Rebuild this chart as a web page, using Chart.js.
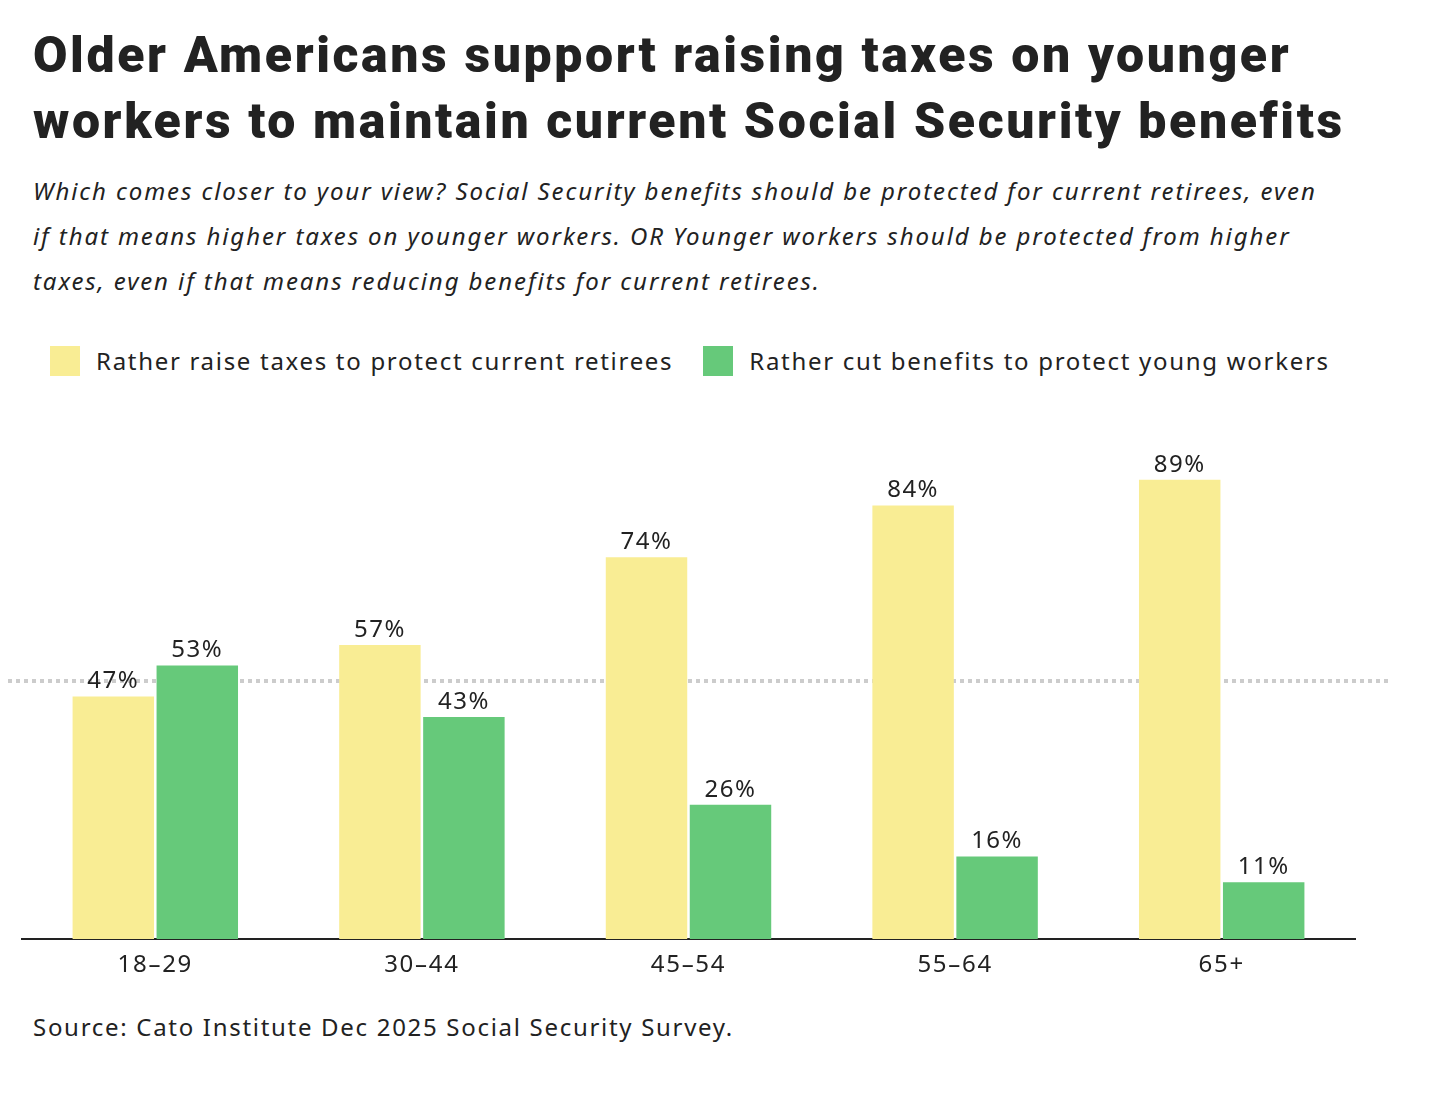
<!DOCTYPE html>
<html><head><meta charset="utf-8">
<script src="https://cdn.jsdelivr.net/npm/chart.js@4"></script>
<style>
body{margin:0;background:#fff;width:1436px;height:1104px;position:relative;font-family:"Noto Sans",sans-serif;color:#222;letter-spacing:1.7px}
#title{position:absolute;left:33px;top:22px;font-family:Roboto,sans-serif;font-weight:900;font-size:50px;line-height:66px;letter-spacing:2.6px;color:#222;margin:0;white-space:nowrap}
#sub{position:absolute;left:33px;top:168px;width:1300px;font-style:italic;font-size:24px;line-height:45px;color:#222;letter-spacing:1.9px}
#legend{position:absolute;left:50px;top:344px;font-size:24px;display:flex;align-items:center}
.sw{width:30px;height:30px;display:inline-block;margin-right:16px}
#src{position:absolute;left:33px;top:1010px;font-size:24px}
#wrap{position:absolute;left:0;top:400px;width:1436px;height:600px}
</style></head><body>
<div id="title">Older Americans support raising taxes on younger<br>workers to maintain current Social Security benefits</div>
<div id="sub">Which comes closer to your view? Social Security benefits should be protected for current retirees, even if that means higher taxes on younger workers. OR Younger workers should be protected from higher taxes, even if that means reducing benefits for current retirees.</div>
<div id="legend"><span class="sw" style="background:#f9ed94"></span><span style="margin-right:30px">Rather raise taxes to protect current retirees</span><span class="sw" style="background:#66c97a"></span><span>Rather cut benefits to protect young workers</span></div>
<div id="wrap"><canvas id="c" width="1436" height="600"></canvas></div>
<div id="src">Source: Cato Institute Dec 2025 Social Security Survey.</div>
<script>
const categories=["18–29","30–44","45–54","55–64","65+"];
const raiseTaxes=[47,57,74,84,89];
const cutBenefits=[53,43,26,16,11];
const seriesNames=["Rather raise taxes to protect current retirees","Rather cut benefits to protect young workers"];
const refLine={id:'ref',beforeDatasetsDraw(ch){const c=ch.ctx,y=ch.scales.y.getPixelForValue(50),a=ch.chartArea;c.save();c.strokeStyle='#cccccc';c.lineWidth=4;c.setLineDash([4,4]);c.beginPath();c.moveTo(a.left-14,y);c.lineTo(a.right+37,y);c.stroke();c.restore();}};
const labels={id:'lbl',afterDatasetsDraw(ch){const c=ch.ctx;c.save();c.font='24px "Noto Sans"';c.letterSpacing='1.5px';c.fillStyle='#222';c.textAlign='center';c.textBaseline='bottom';ch.data.datasets.forEach((d,i)=>{ch.getDatasetMeta(i).data.forEach((b,j)=>{c.fillText(d.data[j]+'%',b.x,b.y-3);});});c.restore();}};
new Chart(document.getElementById('c'),{type:'bar',
data:{labels:categories,datasets:[
{label:seriesNames[0],data:raiseTaxes,backgroundColor:'#f9ed94',categoryPercentage:0.63,barPercentage:0.97},
{label:seriesNames[1],data:cutBenefits,backgroundColor:'#66c97a',categoryPercentage:0.63,barPercentage:0.97}]},
options:{responsive:false,animation:false,layout:{padding:{left:22,right:81,top:23,bottom:0}},
plugins:{legend:{display:false},tooltip:{enabled:false}},
scales:{y:{display:false,min:0,max:100},
x:{afterFit(s){s.height=61;},grid:{display:false,drawTicks:false},border:{color:'#222',width:2},
ticks:{color:'#222',font:{size:24,family:'"Noto Sans"'},padding:12}}}},
plugins:[refLine,labels]});
</script></body></html>
